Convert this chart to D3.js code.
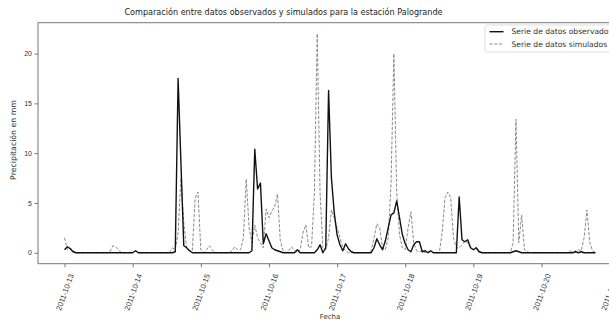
<!DOCTYPE html>
<html>
<head>
<meta charset="utf-8">
<script src="https://cdn.jsdelivr.net/npm/d3@7"></script>
<style>
  body { margin: 0; background: #fff; }
  svg { display: block; font-family: "DejaVu Sans", sans-serif; }
  .axis path, .axis line { stroke: #777; }
  .axis text { fill: #333; }
</style>
</head>
<body>
<svg id="chart" width="609" height="320"></svg>
<script>
// hourly series, starting 2011-10-13 00:00 (one row per day)
var observados = [
  0.3,0.6,0.4,0.1,0,0,0,0,0,0,0,0,0,0,0,0,0,0,0,0,0,0,0,0,
  0,0.2,0,0,0,0,0,0,0,0,0,0,0,0,0,0.1,17.5,9.0,0.7,0.5,0.2,0,0,0,
  0,0,0,0,0,0,0,0,0,0,0,0,0,0,0,0,0,0,0.2,10.4,6.4,7.0,0.9,1.9,
  1.2,0.5,0.3,0.2,0.1,0,0,0,0,0,0.3,0,0,0,0,0,0,0.3,0.8,0,0.5,16.3,7.5,4.0,
  1.8,0.8,0.2,0.9,0.4,0.1,0,0,0,0,0,0,0,0.5,1.4,0.8,0.3,1.2,2.5,3.8,4.0,5.2,3.5,1.8,
  0.9,0.3,0.1,0.8,1.1,1.1,0.1,0.2,0,0.2,0,0,0,0,0,0,0,0,0,5.6,1.3,1.1,1.3,0.5,
  0.3,0.5,0.1,0,0,0,0,0,0,0,0,0,0,0,0.1,0.2,0.1,0,0,0,0,0,0,0,
  0,0,0,0,0,0,0,0,0,0,0,0,0.1,0,0.1,0,0,0,0,0
];
var simulados = [
  1.5,0.3,0.5,0.2,0,0,0,0,0,0,0,0,0,0,0,0,0.1,0.7,0.6,0.3,0,0,0,0,
  0,0.2,0,0,0,0,0,0,0,0,0,0,0,0,0.5,0.3,2.0,7.5,3.0,0.5,0.2,0.2,5.5,6.1,
  0.3,0,0.3,0.7,0.3,0,0,0,0,0,0,0.2,0.6,0.3,0.3,1.5,7.4,2.5,1.0,2.8,1.5,1.0,0.5,4.4,
  3.5,4.2,4.6,5.9,1.2,0.2,0,0.2,0.6,0.2,0,0.3,2.0,2.8,0.5,0.6,6.0,22.0,6.0,0.5,0.3,1.5,4.3,3.5,
  2.5,1.5,0.5,0.2,0,0,0,0,0,0,0,0,0.2,1.5,2.9,2.5,0.5,0.3,1.5,7.0,20.0,6.0,1.8,0.5,
  0.3,2.5,4.1,1.0,0.2,0.1,0.2,0,0.2,0,0,0,0,2.0,5.5,6.1,5.5,1.5,0.5,0.5,0.8,1.2,1.0,0.6,
  0.3,0.5,0.2,0,0,0,0,0,0,0,0,0,0,0,1.0,13.4,1.0,3.8,0.3,0.1,0,0,0,0,
  0,0,0,0,0,0,0,0,0,0,0.2,0,0.2,0.3,0.2,1.5,4.3,1.0,0.2,0
];
var tickDays = ["2011-10-13","2011-10-14","2011-10-15","2011-10-16","2011-10-17",
                "2011-10-18","2011-10-19","2011-10-20","2011-10-21"];
var yTicks = [0, 5, 10, 15, 20];

var parseDay = d3.timeParse("%Y-%m-%d");
var start = parseDay("2011-10-13");
var fechas = observados.map(function(v, i) { return d3.timeHour.offset(start, i); });

var svg = d3.select("#chart"),
    frame = {left: 38, right: 622, top: 22.7, bottom: 263.7};

var t0 = fechas[0], t1 = fechas[fechas.length - 1],
    pad = (t1 - t0) * 0.05;
var x = d3.scaleTime()
    .domain([new Date(+t0 - pad), new Date(+t1 + pad)])
    .range([frame.left, frame.right]);
var y = d3.scaleLinear()
    .domain([-1.1, 23.1])
    .range([frame.bottom, frame.top]);

svg.append("defs").append("clipPath").attr("id", "clip")
    .append("rect")
    .attr("x", frame.left).attr("y", frame.top)
    .attr("width", frame.right - frame.left).attr("height", frame.bottom - frame.top);

// lines
var line = function(values) {
    return d3.line()
        .x(function(d, i) { return x(fechas[i]); })
        .y(function(d) { return y(d); })(values);
};

var g = svg.append("g").attr("clip-path", "url(#clip)");
g.append("path")
    .attr("d", line(simulados))
    .attr("fill", "none")
    .attr("stroke", "#8a8a8a")
    .attr("stroke-width", 1)
    .attr("stroke-dasharray", "3.2,1.6");
g.append("path")
    .attr("d", line(observados))
    .attr("fill", "none")
    .attr("stroke", "#111")
    .attr("stroke-width", 1.4)
    .attr("stroke-linejoin", "round");

// frame
svg.append("rect")
    .attr("x", frame.left).attr("y", frame.top)
    .attr("width", frame.right - frame.left).attr("height", frame.bottom - frame.top)
    .attr("fill", "none").attr("stroke", "#777").attr("stroke-width", 1);

// y axis
var yAxis = svg.append("g")
    .attr("class", "axis")
    .attr("transform", "translate(" + frame.left + ",0)")
    .call(d3.axisLeft(y).tickValues(yTicks).tickSize(3.5).tickPadding(2.5));
yAxis.select(".domain").remove();
yAxis.selectAll("text").style("font-size", "7px");

// x axis
var xAxis = svg.append("g")
    .attr("class", "axis")
    .attr("transform", "translate(0," + frame.bottom + ")")
    .call(d3.axisBottom(x).tickValues(tickDays.map(parseDay)).tickSize(3.5)
        .tickFormat(d3.timeFormat("%Y-%m-%d")));
xAxis.select(".domain").remove();
xAxis.selectAll("text")
    .style("font-size", "7.6px")
    .attr("text-anchor", "middle")
    .attr("dominant-baseline", "central")
    .attr("y", 0).attr("dy", 0)
    .attr("transform", "translate(0,28.5) rotate(-70)");

// labels
svg.append("text")
    .attr("x", 283.5).attr("y", 15)
    .attr("text-anchor", "middle")
    .style("font-size", "8.1px").style("fill", "#222")
    .text("Comparación entre datos observados y simulados para la estación Palogrande");
svg.append("text")
    .attr("transform", "translate(13,140) rotate(-90)")
    .attr("text-anchor", "middle")
    .attr("dominant-baseline", "central")
    .style("font-size", "7.8px").style("fill", "#333")
    .text("Precipitación en mm");
svg.append("text")
    .attr("x", 330).attr("y", 316.5)
    .attr("text-anchor", "middle")
    .attr("dominant-baseline", "central")
    .style("font-size", "7px").style("fill", "#333")
    .text("Fecha");

// legend
var series = [
    {name: "Serie de datos observados", color: "#111", width: 1.4, dash: null},
    {name: "Serie de datos simulados", color: "#8a8a8a", width: 1, dash: "3.2,1.6"}
];
var legend = svg.append("g").attr("transform", "translate(485,25)");
legend.append("rect")
    .attr("x", 0).attr("y", 0).attr("width", 140).attr("height", 27)
    .attr("rx", 2)
    .attr("fill", "#fff").attr("fill-opacity", 0.85)
    .attr("stroke", "#ddd").attr("stroke-width", 1);
var items = legend.selectAll(".item").data(series).enter().append("g")
    .attr("transform", function(d, i) { return "translate(0," + (6.7 + i * 12.3) + ")"; });
items.append("line")
    .attr("x1", 4.5).attr("x2", 18.5)
    .attr("stroke", function(d) { return d.color; })
    .attr("stroke-width", function(d) { return d.width; })
    .attr("stroke-dasharray", function(d) { return d.dash; });
items.append("text")
    .attr("x", 26.5)
    .attr("dominant-baseline", "central")
    .style("font-size", "7.6px").style("fill", "#333")
    .text(function(d) { return d.name; });
</script>
</body>
</html>
